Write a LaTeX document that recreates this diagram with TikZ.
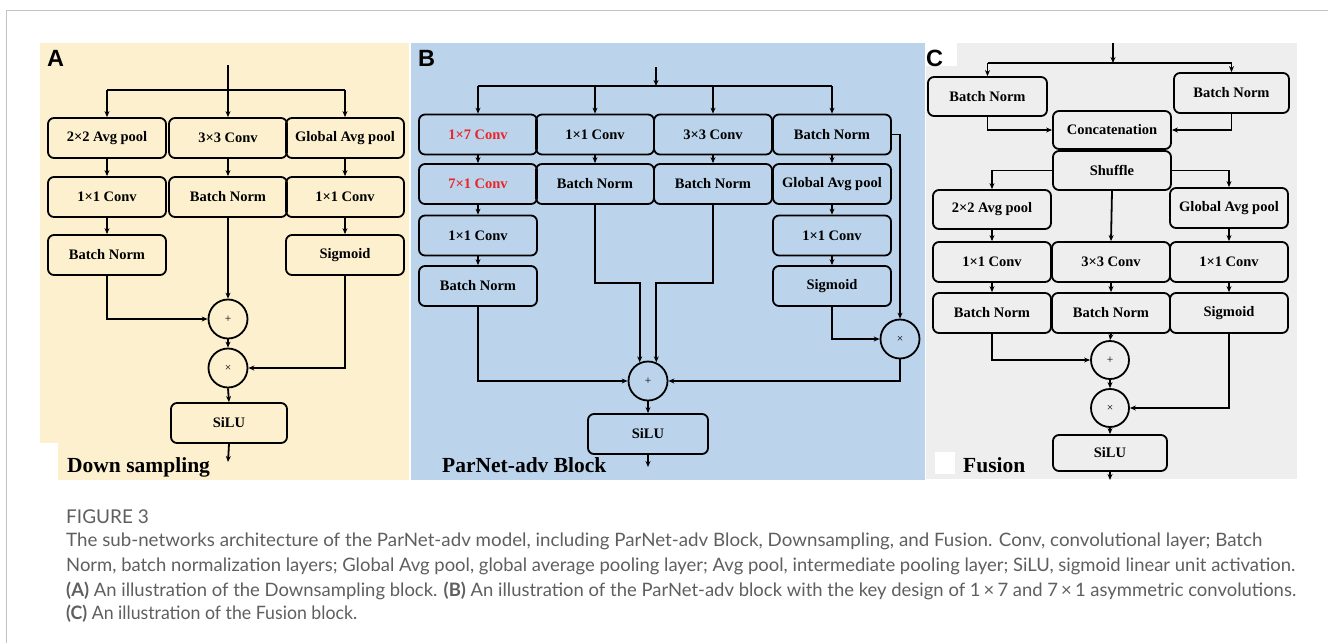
\documentclass[tikz,border=0pt]{standalone}
\usepackage{fontspec}
\setmainfont{Liberation Serif}
\newfontfamily\labfont{Liberation Sans}
\newfontfamily\capfont{Lato}
\usetikzlibrary{arrows.meta}
\definecolor{bgA}{RGB}{253,240,206}
\definecolor{bgB}{RGB}{187,212,236}
\definecolor{bgC}{RGB}{238,238,238}
\definecolor{redtxt}{RGB}{232,38,42}
\definecolor{capgray}{RGB}{95,95,95}
\definecolor{framegray}{RGB}{195,195,195}
\newsavebox\linebox
\newcommand\fitto[2]{\sbox\linebox{#2}\pgfmathsetmacro\fitsc{#1/\the\wd\linebox}\scalebox{\fitsc}[1]{\usebox\linebox}}
\begin{document}
\begin{tikzpicture}[x=1pt,y=-1pt,
 box/.style={draw, line width=1.8pt, rounded corners=6pt, minimum width=118pt, minimum height=40pt, inner sep=0pt, font=\bfseries\fontsize{14.5}{16}\selectfont, align=center},
 op/.style={draw, circle, line width=1.8pt, minimum size=39pt, inner sep=0pt, font=\fontsize{11.5}{12}\selectfont},
 conn/.style={line width=1.8pt},
 arr/.style={line width=1.8pt, -{Stealth[length=6pt,width=5pt]}},
 panellab/.style={font=\labfont\bfseries\fontsize{23.5}{26}\selectfont, anchor=base west, inner sep=0pt},
 paneltitle/.style={font=\bfseries\fontsize{21.5}{24}\selectfont, anchor=base west, inner sep=0pt},
 captext/.style={font=\capfont\fontsize{18.5}{20}\selectfont, text=capgray, anchor=base west, inner sep=0pt}]
\useasboundingbox (0,0) rectangle (1328,643);
\fill[white] (0,0) rectangle (1328,643);
\draw[framegray, line width=1pt] (6,643) -- (6,10) -- (1328,10);
% backgrounds
\fill[bgA] (40,43) rectangle (409,480);
\fill[white] (40,443) rectangle (58,480);
\fill[bgB] (411,43) rectangle (925,480);
\fill[bgC] (926,43) rectangle (1297,479);
\fill[white] (926,43) rectangle (957,66);
\fill[white] (935,452) rectangle (955,474);
% panel labels
\node[panellab] (labA) at (47,66) {A};
\node[panellab] (labB) at (418,66) {B};
\node[panellab] (labC) at (926,66) {C};
% ---------------- Panel A
\node[box] (a11) at (107,138) {2×2 Avg pool};
\node[box] (a12) at (228,138) {3×3 Conv};
\node[box] (a13) at (345,138) {Global Avg pool};
\node[box] (a21) at (107,197) {1×1 Conv};
\node[box] (a22) at (228,197) {Batch Norm};
\node[box] (a23) at (345,197) {1×1 Conv};
\node[box] (a31) at (107,255) {Batch Norm};
\node[box] (a33) at (345,255) {Sigmoid};
\node[op] (ap) at (228,319) {+};
\node[op] (ax) at (228,368) {×};
\node[box, minimum width=116pt] (as) at (229,423) {SiLU};
\coordinate (ain) at (228,65);
\coordinate (aout) at (228,462);
\coordinate (abar) at (0,90);
\draw[arr] (ain) -- (a12.north);
\draw[conn] (a11.north |- abar) -- (a13.north |- abar);
\draw[arr] (a11.north |- abar) -- (a11.north);
\draw[arr] (a13.north |- abar) -- (a13.north);
\draw[arr] (a11.south) -- (a21.north);
\draw[arr] (a12.south) -- (a22.north);
\draw[arr] (a13.south) -- (a23.north);
\draw[arr] (a21.south) -- (a31.north);
\draw[arr] (a23.south) -- (a33.north);
\draw[arr] (a31.south) |- (ap.west);
\draw[arr] (a22.south) -- (ap.north);
\draw[arr] (ap.south) -- (ax.north);
\draw[arr] (a33.south) |- (ax.east);
\draw[arr] (ax.south) -- (as.north);
\draw[arr] (as.south) -- (aout);
\node[paneltitle] (tA) at (67,472) {Down sampling};
% ---------------- Panel B
\node[box, text=redtxt] (b11) at (478,134.5) {1×7 Conv};
\node[box] (b12) at (595,134.5) {1×1 Conv};
\node[box] (b13) at (713,134.5) {3×3 Conv};
\node[box] (b14) at (832,134.5) {Batch Norm};
\node[box, text=redtxt] (b21) at (478,184) {7×1 Conv};
\node[box] (b22) at (595,184) {Batch Norm};
\node[box] (b23) at (713,184) {Batch Norm};
\node[box] (b24) at (832,184) {Global Avg pool};
\node[box] (b31) at (478,235.5) {1×1 Conv};
\node[box] (b34) at (832,235.5) {1×1 Conv};
\node[box] (b41) at (478,286) {Batch Norm};
\node[box] (b44) at (832,286) {Sigmoid};
\node[op] (bp) at (648,381) {+};
\node[op] (bx) at (900,339) {×};
\node[box, minimum width=120pt] (bs) at (648,434) {SiLU};
\coordinate (bin) at (656,67);
\coordinate (bbar) at (0,86);
\coordinate (bj) at (0,283);
\coordinate (bout) at (648,467);
\draw[arr] (bin) -- (bin |- bbar);
\draw[conn] (b11.north |- bbar) -- (b14.north |- bbar);
\draw[arr] (b11.north |- bbar) -- (b11.north);
\draw[arr] (b12.north |- bbar) -- (b12.north);
\draw[arr] (b13.north |- bbar) -- (b13.north);
\draw[arr] (b14.north |- bbar) -- (b14.north);
\draw[arr] (b11.south) -- (b21.north);
\draw[arr] (b12.south) -- (b22.north);
\draw[arr] (b13.south) -- (b23.north);
\draw[arr] (b14.south) -- (b24.north);
\draw[arr] (b21.south) -- (b31.north);
\draw[arr] (b24.south) -- (b34.north);
\draw[arr] (b31.south) -- (b41.north);
\draw[arr] (b34.south) -- (b44.north);
\draw[arr] (b14.east) -| (bx.north);
\draw[arr] (b44.south) |- (bx.west);
\draw[arr] (bx.south) |- (bp.east);
\draw[arr] (b41.south) |- (bp.west);
\draw[arr] (b22.south) |- (bp.114 |- bj) -- (bp.114);
\draw[arr] (b23.south) |- (bp.66 |- bj) -- (bp.66);
\draw[arr] (bp.south) -- (bs.north);
\draw[arr] (bs.south) -- (bout);
\node[paneltitle] (tB) at (442,472) {ParNet-adv Block};
% ---------------- Panel C
\node[box, minimum width=119pt, minimum height=39pt] (c11) at (987.5,96.5) {Batch Norm};
\node[box, minimum width=115pt] (c12) at (1231.5,93) {Batch Norm};
\node[box, minimum height=38pt] (cc) at (1112,130) {Concatenation};
\node[box, minimum height=39pt] (cs) at (1112,170.5) {Shuffle};
\node[box, minimum height=39pt] (c31) at (992,209.5) {2×2 Avg pool};
\node[box] (c33) at (1229,208) {Global Avg pool};
\node[box] (c41) at (992,262) {1×1 Conv};
\node[box] (c42) at (1111,262) {3×3 Conv};
\node[box] (c43) at (1229,262) {1×1 Conv};
\node[box] (c51) at (992,313) {Batch Norm};
\node[box] (c52) at (1111,313) {Batch Norm};
\node[box] (c53) at (1229,313) {Sigmoid};
\node[op, minimum size=38pt] (cp) at (1110,360) {+};
\node[op, minimum size=38pt] (cx) at (1110,408) {×};
\node[box, minimum width=114pt, minimum height=36pt] (cS) at (1110,453) {SiLU};
\coordinate (cin) at (1113,43);
\coordinate (cbar) at (0,63);
\coordinate (cout) at (1110,480);
\draw[arr] (cin) -- (cin |- cbar);
\draw[conn] (c11.north |- cbar) -- (c12.north |- cbar);
\draw[arr] (c11.north |- cbar) -- (c11.north);
\draw[arr] (c12.north |- cbar) -- (c12.north);
\draw[arr] (c11.south) |- (cc.west);
\draw[arr] (c12.south) |- (cc.east);
\draw[arr] (cs.west) -| (c31.north);
\draw[arr] (cs.east) -| (c33.north);
\draw[arr] (cs.south) -- (c42.north);
\draw[arr] (c31.south) -- (c41.north);
\draw[arr] (c33.south) -- (c43.north);
\draw[arr] (c41.south) -- (c51.north);
\draw[arr] (c42.south) -- (c52.north);
\draw[arr] (c43.south) -- (c53.north);
\draw[arr] (c51.south) |- (cp.west);
\draw[arr] (c52.south) -- (cp.north);
\draw[arr] (cp.south) -- (cx.north);
\draw[arr] (c53.south) |- (cx.east);
\draw[arr] (cx.south) -- (cS.north);
\draw[arr] (cS.south) -- (cout);
\node[paneltitle] (tC) at (963,472) {Fusion};
% ---------------- Caption
\node[captext, font=\capfont\fontsize{19}{22}\selectfont] (fig) at (66,523) {FIGURE 3};
\node[captext] (l1) at (66,546) {\fitto{1196}{The sub-networks architecture of the ParNet-adv model, including ParNet-adv Block, Downsampling, and Fusion. Conv, convolutional layer; Batch}};
\node[captext] (l2) at (66,571) {\fitto{1229}{Norm, batch normalization layers; Global Avg pool, global average pooling layer; Avg pool, intermediate pooling layer; SiLU, sigmoid linear unit activation.}};
\node[captext] (l3) at (66,596) {\fitto{1230}{\textbf{(A)} An illustration of the Downsampling block. \textbf{(B)} An illustration of the ParNet-adv block with the key design of 1\,×\,7 and 7\,×\,1 asymmetric convolutions.}};
\node[captext] (l4) at (66,619) {\fitto{291}{\textbf{(C)} An illustration of the Fusion block.}};
\end{tikzpicture}
\end{document}
